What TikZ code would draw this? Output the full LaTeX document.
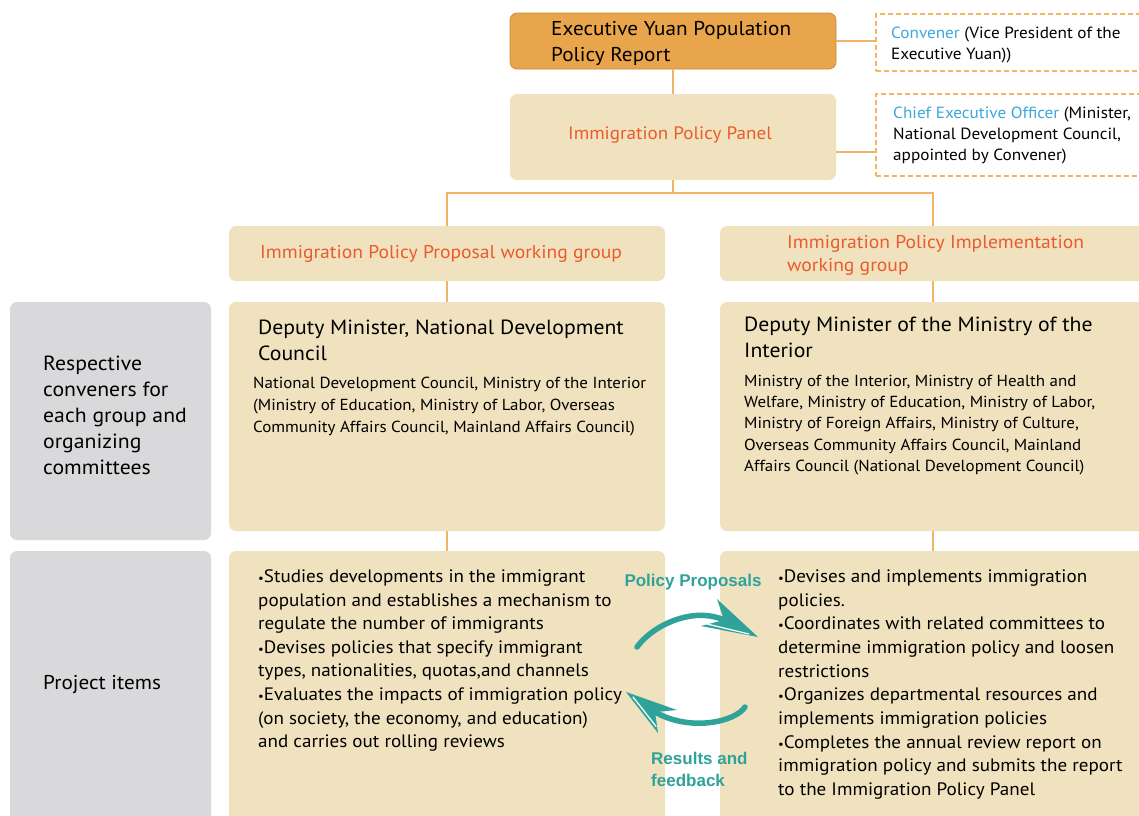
\documentclass[tikz,border=0pt]{standalone}
\usepackage{xcolor}
\usepackage{fontspec}
\setmainfont{PT Sans}[FakeStretch=1.06]
\newfontfamily\loopfont{Liberation Sans}
\usepackage{tikz}
\usetikzlibrary{positioning}

\definecolor{reportorange}{HTML}{E9A54B}
\definecolor{linkorange}{HTML}{F2B467}
\definecolor{paneltan}{HTML}{F0E2BF}
\definecolor{sidegrey}{HTML}{D9D9DB}
\definecolor{titlered}{HTML}{EA5B2B}
\definecolor{roleblue}{HTML}{3CA7DD}
\definecolor{loopteal}{HTML}{2FA39A}

\newcommand{\fsize}[2]{\fontsize{#1}{#2}\selectfont}
\newcommand{\bul}{{\fsize{12}{12}\textbullet}}

\tikzset{
    Box/.style = {rectangle, rounded corners=7pt, inner sep=0pt},
    reportbox/.style = {Box, fill=reportorange, draw=reportorange!85!black, line width=0.7pt},
    tanbox/.style = {Box, fill=paneltan},
    greybox/.style = {Box, fill=sidegrey},
    rolebox/.style = {rectangle, draw=linkorange, line width=2pt, dash pattern=on 5pt off 3pt},
    link/.style = {draw=linkorange, line width=2pt},
    txt/.style = {inner sep=0pt, align=left, anchor=west},
    looplabel/.style = {inner sep=0pt, align=left, text=loopteal, font=\loopfont\bfseries\fsize{17}{22}},
    loopshaft/.style = {draw=loopteal, line width=5.5pt, line cap=round},
}

\begin{document}
\begin{tikzpicture}[x=1pt, y=-1pt]
\clip (0,0) rectangle (1139,815);
\fill[white] (0,0) rectangle (1139,815);
%
% boxes
\node[reportbox, minimum width=326pt, minimum height=56pt] (report) at (673,41) {};
\node[rolebox, minimum width=280pt, minimum height=57pt] (convener) at (1016,42) {};
\node[tanbox, minimum width=326pt, minimum height=86pt] (panel) at (673,137) {};
\node[rolebox, minimum width=280pt, minimum height=82pt] (ceo) at (1016,135) {};
\node[tanbox, minimum width=436pt, minimum height=55pt] (propgrp) at (447,253.5) {};
\node[tanbox, minimum width=426pt, minimum height=55pt] (implgrp) at (933,253.5) {};
\node[greybox, minimum width=201pt, minimum height=238pt] (conlabel) at (110.5,421) {};
\node[tanbox, minimum width=436pt, minimum height=229pt] (propcon) at (447,416.5) {};
\node[tanbox, minimum width=426pt, minimum height=229pt] (implcon) at (933,416.5) {};
\node[greybox, minimum width=201pt, minimum height=280pt] (itemlabel) at (110.5,691) {};
\node[tanbox, minimum width=436pt, minimum height=280pt] (propitems) at (447,691) {};
\node[tanbox, minimum width=426pt, minimum height=280pt] (implitems) at (933,691) {};
%
% links
\draw[link] (report) -- (panel);
\draw[link] (report.east) -- (report.east -| convener.west);
\draw[link] ([yshift=-15pt]panel.east) -- +(40pt,0);
\draw[link] (panel.south) -- ++(0,13) coordinate (fork);
\draw[link] (propgrp.north) |- (fork) -| (implgrp.north);
\draw[link] (propgrp) -- (propcon);
\draw[link] (implgrp) -- (implcon);
\draw[link] (propcon) -- (propitems);
\draw[link] (implcon) -- (implitems);
%
% texts
\node[txt, font=\fsize{20}{26}] at (551,43) {Executive Yuan Population\\Policy Report};
\node[txt, font=\fsize{16.2}{21}] at (891,45) {\textcolor{roleblue}{Convener} (Vice President of the\\Executive Yuan))};
\node[txt, font=\fsize{16.2}{21}] at (893,135.5) {\textcolor{roleblue}{Chief Executive Officer} (Minister,\\National Development Council,\\appointed by Convener)};
\node[txt, text=titlered, font=\fsize{18}{22}, anchor=center] at (670,135) {Immigration Policy Panel};
\node[txt, text=titlered, font=\fsize{18.5}{23}] at (260,254) {Immigration Policy Proposal working group};
\node[txt, text=titlered, font=\fsize{18.5}{23}] at (787,255.5) {Immigration Policy Implementation\\working group};
%
\node[txt, font=\fsize{20.5}{26}] at (43,415) {Respective\\conveners for\\each group and\\organizing\\committees};
\node[txt, font=\fsize{20.5}{26}] at (258,340) {Deputy Minister, National Development\\Council};
\node[txt, font=\fsize{16}{22}] at (253,407) {National Development Council, Ministry of the Interior\\(Ministry of Education, Ministry of Labor, Overseas\\Community Affairs Council, Mainland Affairs Council)};
\node[txt, font=\fsize{20.5}{26}] at (744,337) {Deputy Minister of the Ministry of the\\Interior};
\node[txt, font=\fsize{16}{21.25}] at (744,425) {Ministry of the Interior, Ministry of Health and\\Welfare, Ministry of Education, Ministry of Labor,\\Ministry of Foreign Affairs, Ministry of Culture,\\Overseas Community Affairs Council, Mainland\\Affairs Council (National Development Council)};
%
\node[txt, font=\fsize{20}{26}] at (43,685) {Project items};
\node[txt, font=\fsize{18}{23.6}] at (258,660.5) {\bul{}Studies developments in the immigrant\\population and establishes a mechanism to\\regulate the number of immigrants\\\bul{}Devises policies that specify immigrant\\types, nationalities, quotas,and channels\\\bul{}Evaluates the impacts of immigration policy\\(on society, the economy, and education)\\and carries out rolling reviews};
\node[txt, font=\fsize{18}{23.7}] at (778,684.5) {\bul{}Devises and implements immigration\\policies.\\\bul{}Coordinates with related committees to\\determine immigration policy and loosen\\restrictions\\\bul{}Organizes departmental resources and\\implements immigration policies\\\bul{}Completes the annual review report on\\immigration policy and submits the report\\to the Immigration Policy Panel};
%
% proposal / feedback loop
\coordinate (pp-start) at (637,647);
\coordinate (pp-notch) at (724,620);
\coordinate (pp-tip) at (758,637);
\draw[loopshaft] (pp-start) .. controls (652,626) and (692,606) .. (pp-notch);
\fill[loopteal] (717,599) -- (pp-tip) -- (701,626) -- (pp-notch) -- cycle;
\draw[white, line width=1.2pt] (707,624) -- (749,634);
%
\coordinate (rf-start) at (745,707);
\coordinate (rf-notch) at (655,712);
\coordinate (rf-tip) at (626,692);
\draw[loopshaft] (rf-start) .. controls (735,722) and (690,732) .. (rf-notch);
\fill[loopteal] (rf-tip) -- (677,710) -- (rf-notch) -- (658,733) -- cycle;
\draw[white, line width=1.2pt] (632.8,696.7) -- (656.2,726.6);
%
\node[looplabel] at (693,582) {Policy Proposals};
\node[looplabel, anchor=west] at (651,769) {Results and\\feedback};
\end{tikzpicture}
\end{document}
